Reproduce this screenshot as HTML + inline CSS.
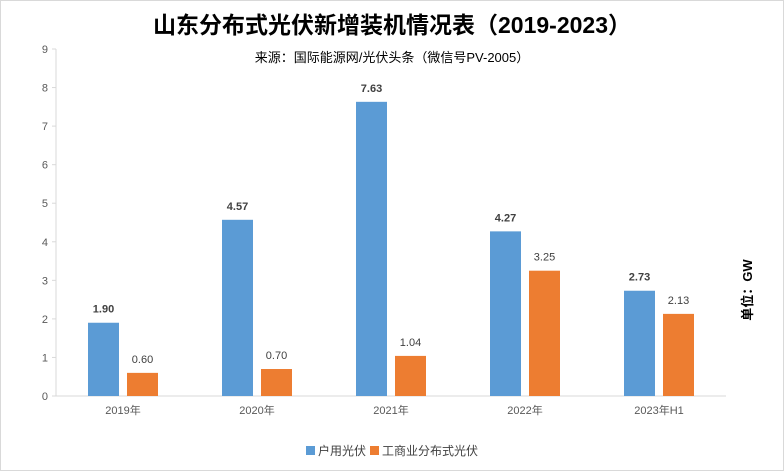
<!DOCTYPE html>
<html><head><meta charset="utf-8"><style>
body{margin:0;background:#fff;}
svg{display:block;font-family:"Liberation Sans","Noto Sans CJK SC",sans-serif;}
</style></head><body>
<svg id="chart" width="784" height="471">
<rect x="0.5" y="0.5" width="783" height="470" fill="#fff" stroke="#d9d9d9"/>
<text x="392" y="33" text-anchor="middle" font-size="23" font-weight="bold" fill="#000">山东分布式光伏新增装机情况表（2019-2023）</text>
<text x="392" y="62" text-anchor="middle" font-size="13" fill="#000">来源：国际能源网/光伏头条（微信号PV-2005）</text>
<text transform="translate(752,290) rotate(-90)" text-anchor="middle" font-size="13" font-weight="bold" fill="#000">单位：GW</text>
<g id="axes"></g><g id="bars"></g>
<g>
<rect x="306" y="446" width="9" height="9" fill="#5b9bd5"/>
<text x="318" y="455" font-size="12" fill="#404040">户用光伏</text>
<rect x="370" y="446" width="9" height="9" fill="#ed7d31"/>
<text x="382" y="455" font-size="12" fill="#404040">工商业分布式光伏</text>
</g>
</svg>
<script>
const categories=["2019年","2020年","2021年","2022年","2023年H1"];
const household=[1.90,4.57,7.63,4.27,2.73];
const commercial=[0.60,0.70,1.04,3.25,2.13];
const yTicks=[0,1,2,3,4,5,6,7,8,9];
const NS="http://www.w3.org/2000/svg";
const x0=56,x1=726,yBase=396,yTop=49,yMax=9;
const y=v=>yBase-(v/yMax)*(yBase-yTop);
const bw=(x1-x0)/categories.length;
const axes=document.getElementById('axes'),bars=document.getElementById('bars');
function mk(tag,attrs,parent,text){const e=document.createElementNS(NS,tag);for(const k in attrs)e.setAttribute(k,attrs[k]);if(text!==undefined)e.textContent=text;parent.appendChild(e);return e;}
let l=mk('line',{x1:x0,y1:yTop,x2:x0,y2:yBase,stroke:'#d9d9d9'},axes);


l=mk('line',{x1:x0,y1:yBase,x2:x1,y2:yBase,stroke:'#d9d9d9'},axes);


yTicks.forEach(t=>{
 const e=mk('text',{x:x0-8,y:y(t)+4,'text-anchor':'end','font-size':11,fill:'#595959'},axes,String(t));
 
 
 const tk=mk('line',{x1:x0-4,y1:y(t),x2:x0,y2:y(t),stroke:'#d9d9d9'},axes);
 
 
});
const w=31,gap=8;
categories.forEach((c,i)=>{
 const cx=x0+bw*(i+0.5);
 const lab=mk('text',{x:cx,y:414,'text-anchor':'middle','font-size':11,fill:'#595959'},axes,c);
 
 
 const bx=cx-gap/2-w, ox=cx+gap/2;
 const b=mk('rect',{x:bx,y:y(household[i]),width:w,height:yBase-y(household[i]),fill:'#5b9bd5'},bars);
 
 
 const o=mk('rect',{x:ox,y:y(commercial[i]),width:w,height:yBase-y(commercial[i]),fill:'#ed7d31'},bars);
 
 
 const t1=mk('text',{x:bx+w/2,y:y(household[i])-10,'text-anchor':'middle','font-size':11,'font-weight':'bold',fill:'#404040'},bars,household[i].toFixed(2));
 
 
 const t2=mk('text',{x:ox+w/2,y:y(commercial[i])-10,'text-anchor':'middle','font-size':11,fill:'#404040'},bars,commercial[i].toFixed(2));
 
 
});
</script>
</body></html>
